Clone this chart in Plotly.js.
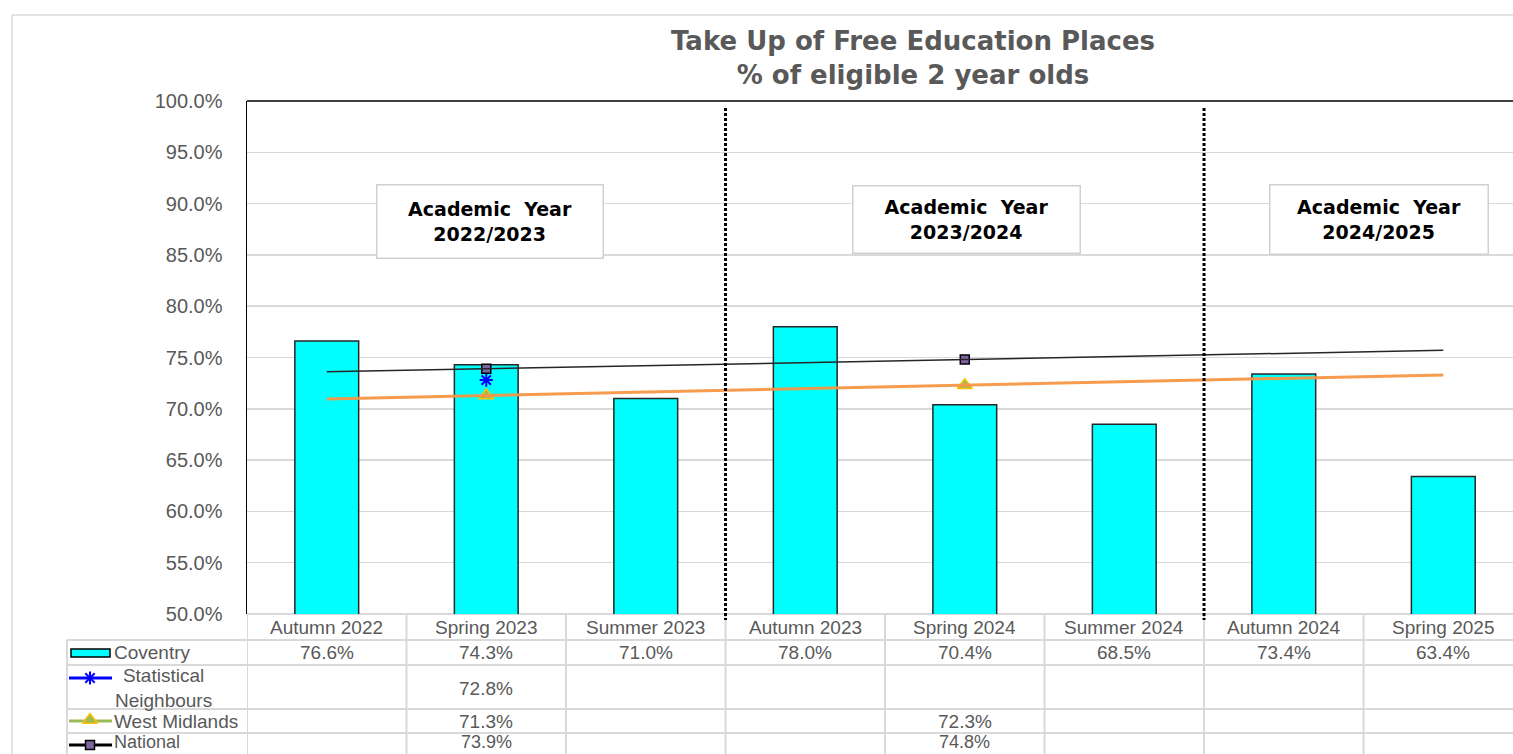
<!DOCTYPE html>
<html>
<head>
<meta charset="utf-8">
<script src="https://cdn.plot.ly/plotly-3.0.1.min.js"></script>
<style>
html, body { margin: 0; padding: 0; background: #ffffff; overflow: hidden; }
#chart { width: 1513px; height: 754px; }
</style>
</head>
<body>
<div id="chart"></div>
<script>
// ---------- data ----------
const categories = ['Autumn 2022', 'Spring 2023', 'Summer 2023', 'Autumn 2023', 'Spring 2024', 'Summer 2024', 'Autumn 2024', 'Spring 2025'];
const coventry = [76.6, 74.3, 71.0, 78.0, 70.4, 68.5, 73.4, 63.4];
const statNeighbours = [null, 72.8, null, null, null, null, null, null];
const westMidlands = [null, 71.3, null, null, 72.3, null, null, null];
const national = [null, 73.9, null, null, 74.8, null, null, null];
const seriesNames = ['Coventry', 'Statistical Neighbours', 'West Midlands', 'National'];
const yTicks = [50, 55, 60, 65, 70, 75, 80, 85, 90, 95, 100];
const yearLabels = ['Academic\u00a0\u00a0Year<br>2022/2023', 'Academic\u00a0\u00a0Year<br>2023/2024', 'Academic\u00a0\u00a0Year<br>2024/2025'];
const titleText = 'Take Up of Free Education Places<br>% of eligible 2 year olds';

// ---------- geometry helpers (layout only) ----------
const W = 1513, H = 754;
const px = x => x / W;
const py = y => 1 - y / H;

// linear least-squares trendline (as Excel draws for these series)
function linFit(vals) {
  const pts = vals.map((v, i) => [i, v]).filter(p => p[1] !== null);
  const n = pts.length;
  const mx = pts.reduce((s, p) => s + p[0], 0) / n;
  const my = pts.reduce((s, p) => s + p[1], 0) / n;
  let sxy = 0, sxx = 0;
  pts.forEach(p => { sxy += (p[0] - mx) * (p[1] - my); sxx += (p[0] - mx) * (p[0] - mx); });
  const slope = sxx ? sxy / sxx : 0;
  return i => my + slope * (i - mx);
}
const natFit = linFit(national);
const wmFit = linFit(westMidlands);
const lastIdx = categories.length - 1;

const txtFont = { family: 'Liberation Sans, Arial, sans-serif', size: 19, color: '#595959' };
const lastRowFont = { family: 'Liberation Sans, Arial, sans-serif', size: 18, color: '#595959' };

const covMarker = { color: '#00ffff', line: { color: '#262626', width: 1.5 } };
const snMarker = { symbol: 'asterisk-open', size: 11, color: '#0000ff', line: { color: '#0000ff', width: 2 } };
const wmMarker = { symbol: 'triangle-up', size: 13, color: '#9bbb59', line: { color: '#ffc000', width: 1.5 } };
const natMarker = { symbol: 'square', size: 9, color: '#8064a2', line: { color: '#000000', width: 1.5 } };

const traces = [
  { type: 'bar', name: seriesNames[0], x: categories, y: coventry, width: 0.4, marker: covMarker, showlegend: false },
  { type: 'scatter', mode: 'markers', name: seriesNames[1], x: categories, y: statNeighbours, marker: snMarker, showlegend: false },
  { type: 'scatter', mode: 'markers', name: seriesNames[2], x: categories, y: westMidlands, marker: wmMarker, showlegend: false },
  { type: 'scatter', mode: 'markers', name: seriesNames[3], x: categories, y: national, marker: natMarker, showlegend: false },
  { type: 'scatter', mode: 'lines', name: 'National trend', x: [categories[0], categories[lastIdx]], y: [natFit(0), natFit(lastIdx)],
    line: { color: '#262626', width: 1.5 }, showlegend: false },
  { type: 'scatter', mode: 'lines', name: 'West Midlands trend', x: [categories[0], categories[lastIdx]], y: [wmFit(0), wmFit(lastIdx)],
    line: { color: '#f79646', width: 3 }, opacity: 0.95, showlegend: false },
  // legend-key markers in the data table (pixel overlay axes)
  { type: 'scatter', mode: 'markers', x: [90], y: [678], xaxis: 'x2', yaxis: 'y2', marker: snMarker, showlegend: false },
  { type: 'scatter', mode: 'markers', x: [90], y: [720], xaxis: 'x2', yaxis: 'y2', marker: wmMarker, showlegend: false },
  { type: 'scatter', mode: 'markers', x: [90], y: [745], xaxis: 'x2', yaxis: 'y2', marker: natMarker, showlegend: false }
];

// ---------- shapes ----------
const grid = '#d9d9d9';
const shapes = [];
// outer chart border
shapes.push({ type: 'line', xref: 'paper', yref: 'paper', x0: px(12), x1: px(12), y0: py(15), y1: py(754), line: { color: grid, width: 1.5 } });
shapes.push({ type: 'line', xref: 'paper', yref: 'paper', x0: px(12), x1: 1, y0: py(15), y1: py(15), line: { color: grid, width: 1.5 } });
// plot-area top border
shapes.push({ type: 'line', xref: 'paper', yref: 'paper', x0: px(247), x1: 1, y0: py(101), y1: py(101), line: { color: '#000000', width: 1.5 } });
// academic-year separators
[2.5, 5.5].forEach(x => shapes.push({ type: 'line', xref: 'x', yref: 'paper', x0: x, x1: x, y0: py(108), y1: py(620),
  line: { color: '#000000', width: 3, dash: '3px,2px' } }));
// data table grid
for (let i = 0; i < categories.length; i++) {
  shapes.push({ type: 'line', xref: 'x', yref: 'paper', x0: i - 0.5, x1: i - 0.5, y0: py(614), y1: py(754), line: { color: grid, width: 2 }, layer: 'below' });
}
shapes.push({ type: 'line', xref: 'paper', yref: 'paper', x0: px(247), x1: 1, y0: py(614), y1: py(614), line: { color: grid, width: 2 }, layer: 'below' });
shapes.push({ type: 'line', xref: 'paper', yref: 'paper', x0: px(67), x1: px(67), y0: py(640), y1: py(754), line: { color: grid, width: 2 }, layer: 'below' });
[640, 665, 709, 733].forEach(y => shapes.push({ type: 'line', xref: 'paper', yref: 'paper', x0: px(67), x1: 1, y0: py(y), y1: py(y), line: { color: grid, width: 2 }, layer: 'below' }));
// legend keys
shapes.push({ type: 'rect', xref: 'paper', yref: 'paper', x0: px(71), x1: px(110), y0: py(649), y1: py(657), fillcolor: '#00ffff', line: { color: '#000000', width: 1.5 }, layer: 'below' });
shapes.push({ type: 'line', xref: 'paper', yref: 'paper', x0: px(69), x1: px(112), y0: py(678), y1: py(678), line: { color: '#0000ff', width: 3 }, layer: 'below' });
shapes.push({ type: 'line', xref: 'paper', yref: 'paper', x0: px(69), x1: px(112), y0: py(721), y1: py(721), line: { color: '#9bbb59', width: 3 }, layer: 'below' });
shapes.push({ type: 'line', xref: 'paper', yref: 'paper', x0: px(69), x1: px(112), y0: py(745), y1: py(745), line: { color: '#000000', width: 3 }, layer: 'below' });

// ---------- annotations ----------
const annotations = [];
// category header row
categories.forEach(c => annotations.push({ xref: 'x', yref: 'paper', x: c, y: py(627), text: c, showarrow: false, font: txtFont, xanchor: 'center', yanchor: 'middle' }));
// value rows
const rows = [[coventry, 652, 'middle'], [statNeighbours, 688, 'middle'], [westMidlands, 721, 'middle'], [national, 754, 'bottom']];
rows.forEach(([vals, yy, anc]) => vals.forEach((v, i) => {
  if (v !== null) annotations.push({ xref: 'x', yref: 'paper', x: categories[i], y: py(yy), text: v.toFixed(1) + '%', showarrow: false,
    font: anc === 'bottom' ? lastRowFont : txtFont, xanchor: 'center', yanchor: anc });
}));
// legend labels
annotations.push({ xref: 'paper', yref: 'paper', x: px(112), y: py(652), text: seriesNames[0], showarrow: false, font: txtFont, xanchor: 'left', yanchor: 'middle' });
annotations.push({ xref: 'paper', yref: 'paper', x: px(163), y: py(688), text: 'Statistical<br>Neighbours', showarrow: false, font: txtFont, xanchor: 'center', yanchor: 'middle', align: 'center' });
annotations.push({ xref: 'paper', yref: 'paper', x: px(112), y: py(721), text: seriesNames[2], showarrow: false, font: txtFont, xanchor: 'left', yanchor: 'middle' });
annotations.push({ xref: 'paper', yref: 'paper', x: px(112), y: py(754), text: seriesNames[3], showarrow: false, font: lastRowFont, xanchor: 'left', yanchor: 'bottom' });
// academic year boxes
const boxes = [[489.5, 221, 227, 74], [966, 219, 228, 68], [1378.5, 220, 219, 70]];
boxes.forEach((b, i) => annotations.push({
  xref: 'paper', yref: 'paper', x: px(b[0]), y: py(b[1]), xanchor: 'center', yanchor: 'middle',
  text: yearLabels[i], showarrow: false, align: 'center',
  width: b[2] - 4, height: b[3] - 4, borderpad: 1, borderwidth: 1.5, bordercolor: '#d0d0d0', bgcolor: '#ffffff',
  font: { family: 'DejaVu Sans, sans-serif', size: 19, weight: 'bold', color: '#000000' }
}));

const layout = {
  width: W, height: H,
  margin: { l: 0, r: 0, t: 0, b: 0 },
  paper_bgcolor: '#ffffff', plot_bgcolor: 'rgba(0,0,0,0)',
  showlegend: false, hovermode: false,
  title: { text: titleText, x: px(913), xanchor: 'center', xref: 'paper', y: py(50), yanchor: 'middle', yref: 'container',
    font: { family: 'DejaVu Sans, sans-serif', size: 26, weight: 'bold', color: '#595959' } },
  xaxis: { type: 'category', categoryarray: categories, domain: [px(247), 1], range: [-0.5, 7.437],
    showticklabels: false, showgrid: false, zeroline: false, showline: false, ticks: '', fixedrange: true },
  yaxis: { domain: [py(614), py(101)], range: [50, 100], tickvals: yTicks, ticktext: yTicks.map(v => v.toFixed(1) + '%'),
    showgrid: true, gridcolor: grid, gridwidth: 1.5, zeroline: false, showline: true, linecolor: '#000000', linewidth: 1.5,
    ticks: '', ticklabelstandoff: 19, tickfont: { family: 'Liberation Sans, Arial, sans-serif', size: 20, color: '#595959' }, fixedrange: true },
  xaxis2: { domain: [0, 1], range: [0, W], anchor: 'y2', visible: false, fixedrange: true },
  yaxis2: { domain: [0, 1], range: [H, 0], anchor: 'x2', visible: false, fixedrange: true },
  shapes: shapes,
  annotations: annotations
};

Plotly.newPlot('chart', traces, layout, { displayModeBar: false, staticPlot: true });
</script>
</body>
</html>
